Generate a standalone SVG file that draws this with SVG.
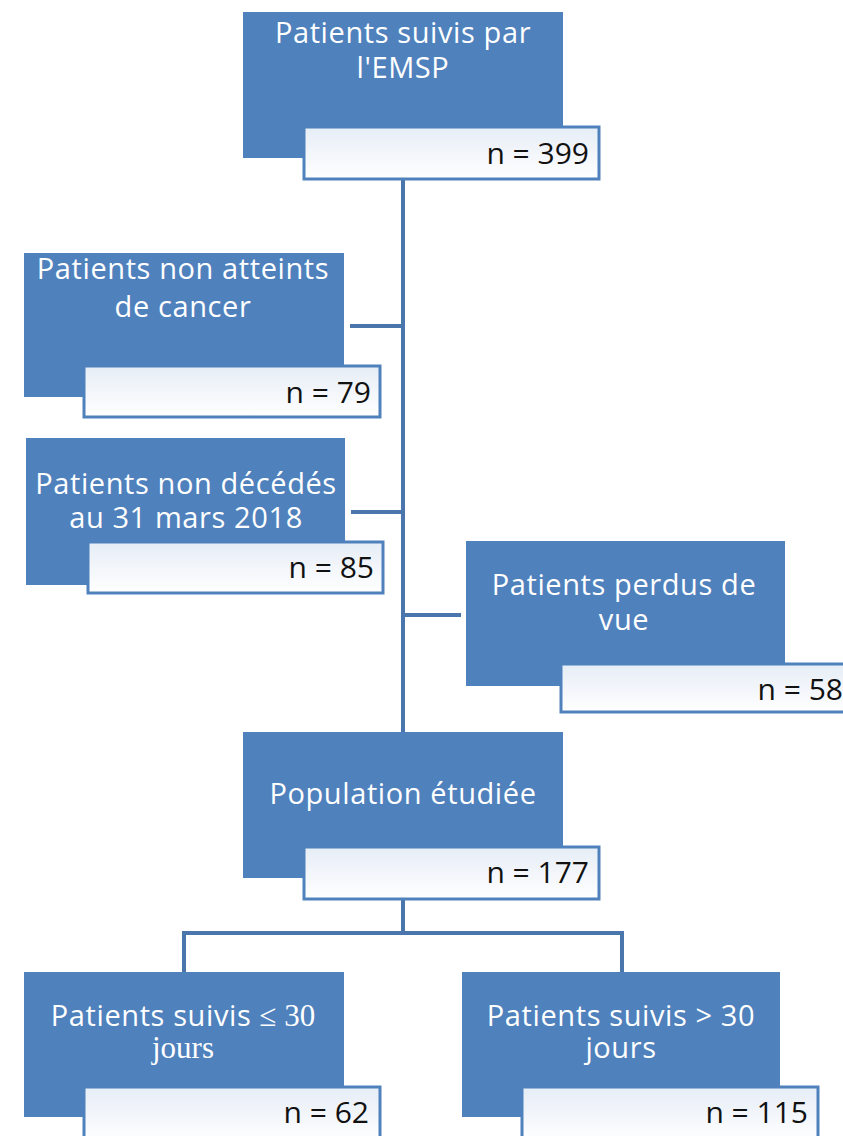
<svg xmlns="http://www.w3.org/2000/svg" width="843" height="1136" viewBox="0 0 843 1136">
<defs>
<linearGradient id="wg" x1="0" y1="0" x2="0" y2="1">
<stop offset="0" stop-color="#e6edf6"/>
<stop offset="1" stop-color="#ffffff"/>
</linearGradient>
</defs>
<style>
.blue{fill:#4f81bd;}
.nbox{fill:url(#wg);stroke:#4f81bd;stroke-width:3;}
.lbl{font-family:"Open Sans","Noto Sans",sans-serif;font-size:29px;letter-spacing:0.6px;fill:#ffffff;text-anchor:middle;}
.ser{font-family:"Liberation Serif",serif;font-size:31px;letter-spacing:0;}
.n{font-family:"Open Sans","Noto Sans",sans-serif;font-size:30px;fill:#111111;text-anchor:end;}
.conn{stroke:#4a75ad;stroke-width:4;fill:none;}
</style>
<rect width="843" height="1136" fill="#ffffff"/>
<g id="connectors">
<line class="conn" x1="403" y1="180" x2="403" y2="732"/>
<line class="conn" x1="350" y1="326" x2="403" y2="326"/>
<line class="conn" x1="351" y1="512" x2="403" y2="512"/>
<line class="conn" x1="403" y1="615" x2="461" y2="615"/>
<line class="conn" x1="403" y1="900" x2="403" y2="933"/>
<line class="conn" x1="182" y1="933" x2="624" y2="933"/>
<line class="conn" x1="184" y1="933" x2="184" y2="972"/>
<line class="conn" x1="622" y1="933" x2="622" y2="972"/>
</g>
<g id="node-emsp">
<rect class="blue" x="243" y="12" width="320" height="146"/>
<text class="lbl"><tspan x="403" y="43">Patients suivis par</tspan><tspan x="403" y="78">l'EMSP</tspan></text>
<rect class="nbox" x="304" y="127" width="295" height="52"/>
<text class="n" x="589" y="164">n = 399</text>
</g>
<g id="node-cancer">
<rect class="blue" x="24" y="253" width="320" height="144"/>
<text class="lbl"><tspan x="183" y="279">Patients non atteints</tspan><tspan x="183" y="317">de cancer</tspan></text>
<rect class="nbox" x="84" y="366" width="296" height="51"/>
<text class="n" x="371" y="403">n = 79</text>
</g>
<g id="node-decedes">
<rect class="blue" x="26" y="438" width="319" height="147"/>
<text class="lbl"><tspan x="186" y="494">Patients non décédés</tspan><tspan x="186" y="528">au 31 mars 2018</tspan></text>
<rect class="nbox" x="88" y="542" width="295" height="51"/>
<text class="n" x="374" y="578">n = 85</text>
</g>
<g id="node-perdus">
<rect class="blue" x="466" y="541" width="319" height="145"/>
<text class="lbl"><tspan x="624" y="595">Patients perdus de</tspan><tspan x="624" y="630">vue</tspan></text>
<rect class="nbox" x="561" y="664" width="300" height="48"/>
<text class="n" x="843" y="700">n = 58</text>
</g>
<g id="node-population">
<rect class="blue" x="243" y="732" width="320" height="146"/>
<text class="lbl" x="403" y="804">Population étudiée</text>
<rect class="nbox" x="304" y="847" width="295" height="52"/>
<text class="n" x="589" y="883">n = 177</text>
</g>
<g id="node-le30">
<rect class="blue" x="24" y="972" width="320" height="145"/>
<text class="lbl"><tspan x="183" y="1026">Patients suivis <tspan class="ser">≤ 30</tspan></tspan><tspan class="ser" x="183" y="1058">jours</tspan></text>
<rect class="nbox" x="84" y="1087" width="296" height="55"/>
<text class="n" x="369" y="1123">n = 62</text>
</g>
<g id="node-gt30">
<rect class="blue" x="462" y="972" width="318" height="145"/>
<text class="lbl"><tspan x="621" y="1026">Patients suivis &gt; 30</tspan><tspan x="621" y="1058">jours</tspan></text>
<rect class="nbox" x="522" y="1087" width="296" height="55"/>
<text class="n" x="808" y="1123">n = 115</text>
</g>
</svg>
